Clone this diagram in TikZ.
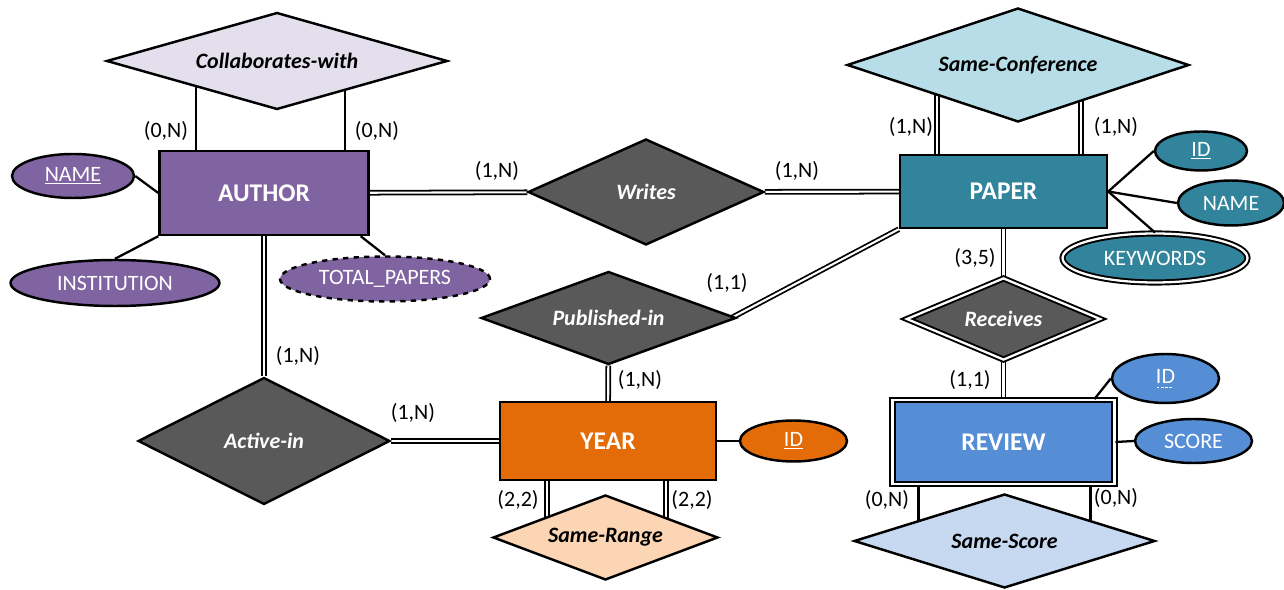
\documentclass[tikz,border=0pt]{standalone}
\usepackage{fontspec}
\setmainfont{Carlito}
\usetikzlibrary{shapes.geometric,backgrounds}

\definecolor{authorpurple}{HTML}{8064A2}
\definecolor{collabfill}{HTML}{E4DFEC}
\definecolor{relgray}{HTML}{595959}
\definecolor{paperteal}{HTML}{31849B}
\definecolor{conffill}{HTML}{B7DEE8}
\definecolor{yearorange}{HTML}{E36C09}
\definecolor{rangefill}{HTML}{FCD5B5}
\definecolor{reviewblue}{HTML}{558ED5}
\definecolor{scorefill}{HTML}{C6D9F1}

\newcommand{\dashunder}[1]{\setbox0\hbox{#1}\rlap{\raisebox{-2.5pt}{\leaders\hbox to 2.4pt{\hss\rule{1.5pt}{0.5pt}\hss}\hskip\wd0}}\box0}

\tikzset{
  entity/.style={rectangle, draw, line width=1.4pt, text=white, inner sep=0pt,
    font=\fontsize{14.5}{16}\selectfont\bfseries},
  attrib/.style={ellipse, draw, line width=1.4pt, text=white, inner sep=0pt,
    font=\fontsize{12.5}{14}\selectfont},
  relation/.style={diamond, draw, line width=1.4pt, aspect=3, inner sep=0pt,
    font=\fontsize{12.5}{14}\selectfont\bfseries\itshape},
  card/.style={inner sep=0pt, font=\fontsize{12.5}{14}\selectfont},
  link/.style={line width=1.3pt},
  dbl/.style={double, line width=1pt, double distance=1.2pt},
  dblborder/.style={double, line width=1.1pt, double distance=1.3pt}
}

\begin{document}
\begin{tikzpicture}[x=0.02cm, y=-0.02cm]
  \useasboundingbox (0,0) rectangle (1284,590);

  \node[relation, fill=collabfill, minimum width=6.82cm, minimum height=1.94cm] (collab) at (277,61) {Collaborates-with};
  \node[entity, fill=authorpurple, minimum width=4.18cm, minimum height=1.68cm] (author) at (264,193) {AUTHOR};
  \node[attrib, fill=authorpurple, minimum width=2.44cm, minimum height=0.88cm] (aname) at (73,176) {\underline{NAME}};
  \node[attrib, fill=authorpurple, minimum width=4.18cm, minimum height=0.92cm] (ainst) at (115,283) {INSTITUTION};
  \node[attrib, dashed, fill=authorpurple, minimum width=4.2cm, minimum height=0.9cm] (atotal) at (385,279) {TOTAL\_PAPERS};

  \node[relation, fill=relgray, text=white, minimum width=4.72cm, minimum height=2.12cm] (writes) at (646,192) {Writes};

  \node[entity, fill=paperteal, minimum width=4.14cm, minimum height=1.46cm] (paper) at (1003.5,191.5) {PAPER};
  \node[relation, fill=conffill, minimum width=6.84cm, minimum height=2.28cm] (sameconf) at (1018,65) {Same-Conference};
  \node[attrib, fill=paperteal, minimum width=1.84cm, minimum height=0.78cm] (pid) at (1201,151) {\underline{ID}};
  \node[attrib, fill=paperteal, minimum width=2.12cm, minimum height=0.9cm] (pname) at (1231,203) {NAME};
  \node[attrib, dblborder, fill=paperteal, minimum width=3.7cm, minimum height=0.98cm] (pkey) at (1155,258) {KEYWORDS};

  \node[relation, fill=relgray, text=white, minimum width=5.1cm, minimum height=1.86cm] (published) at (608.5,318) {Published-in};
  \node[entity, fill=yearorange, minimum width=4.32cm, minimum height=1.56cm] (year) at (608,441) {YEAR};
  \node[attrib, fill=yearorange, minimum width=2.14cm, minimum height=0.82cm] (yid) at (793.5,441) {\underline{ID}};
  \node[relation, fill=relgray, text=white, minimum width=5.04cm, minimum height=2.54cm] (active) at (264,441) {Active-in};
  \node[relation, fill=rangefill, minimum width=4.5cm, minimum height=1.7cm] (samerange) at (605.5,537.5) {Same-Range};

  \node[relation, dblborder, fill=relgray, text=white, minimum width=3.88cm, minimum height=1.64cm] (receives) at (1003.5,319) {Receives};
  \node[entity, dblborder, fill=reviewblue, minimum width=4.44cm, minimum height=1.68cm] (review) at (1003.5,442) {REVIEW};
  \node[attrib, fill=reviewblue, minimum width=2.14cm, minimum height=0.98cm] (rid) at (1165.5,378.5) {\dashunder{ID}};
  \node[attrib, fill=reviewblue, minimum width=2.34cm, minimum height=0.88cm] (rscore) at (1193.5,441) {SCORE};
  \node[relation, fill=scorefill, minimum width=6.02cm, minimum height=1.88cm] (samescore) at (1004.5,541) {Same-Score};

  \begin{pgfonlayer}{background}
    \draw[link] ([xshift=0.76cm]author.north west) -- ([xshift=0.76cm]author.north west |- collab.center);
    \draw[link] ([xshift=-0.5cm]author.north east) -- ([xshift=-0.5cm]author.north east |- collab.center);
    \draw[dbl] (author) -- (writes);
    \draw[dbl] (writes) -- (paper);
    \draw[dbl] ([xshift=0.76cm]paper.north west) -- ([xshift=0.76cm]paper.north west |- sameconf.center);
    \draw[dbl] ([xshift=-0.54cm]paper.north east) -- ([xshift=-0.54cm]paper.north east |- sameconf.center);
    \draw[dbl] (paper) -- (receives);
    \draw[dbl] (receives) -- (review);
    \draw[dbl] ([xshift=-0.12cm]published.east) -- (paper.south west);
    \draw[dbl] (published) -- (year);
    \draw[dbl] (author) -- (active);
    \draw[dbl] (active) -- (year);
    \draw[dbl] ([xshift=0.96cm]year.south west) -- ([xshift=0.96cm]year.south west |- samerange.center);
    \draw[dbl] ([xshift=-1.02cm]year.south east) -- ([xshift=-1.02cm]year.south east |- samerange.center);
    \draw[link] ([xshift=0.54cm]review.south west) -- ([xshift=0.54cm]review.south west |- samescore.center);
    \draw[link] ([xshift=-0.5cm]review.south east) -- ([xshift=-0.5cm]review.south east |- samescore.center);
  \end{pgfonlayer}

  \draw[link] (aname.east) -- (author.west);
  \draw[link] (ainst.north) -- (author.south west);
  \draw[link] (atotal.north) -- ([xshift=-0.18cm]author.south east);
  \draw[link] (paper.east) -- (pid.west);
  \draw[link] (paper.east) -- (pname.west);
  \draw[link] (paper.east) -- (pkey.north);
  \draw[link] (year.east) -- (yid.west);
  \draw[link] (review.east) -- (rscore.west);
  \draw[link] ([xshift=-0.42cm]review.north east) -- (rid.west);

  \node[card] (c1) at (166,131) {(0,N)};
  \node[card] (c2) at (377,131) {(0,N)};
  \node[card] (c3) at (497,171) {(1,N)};
  \node[card] (c4) at (797,171) {(1,N)};
  \node[card] (c5) at (911,127) {(1,N)};
  \node[card] (c6) at (1116,127) {(1,N)};
  \node[card] (c7) at (975,258) {(3,5)};
  \node[card] (c8) at (727,283) {(1,1)};
  \node[card] (c9) at (640,380) {(1,N)};
  \node[card] (c10) at (298,356) {(1,N)};
  \node[card] (c11) at (413,413) {(1,N)};
  \node[card] (c12) at (518,500) {(2,2)};
  \node[card] (c13) at (692,500) {(2,2)};
  \node[card] (c14) at (970,380) {(1,1)};
  \node[card] (c15) at (887,500) {(0,N)};
  \node[card] (c16) at (1116,498) {(0,N)};
\end{tikzpicture}
\end{document}
